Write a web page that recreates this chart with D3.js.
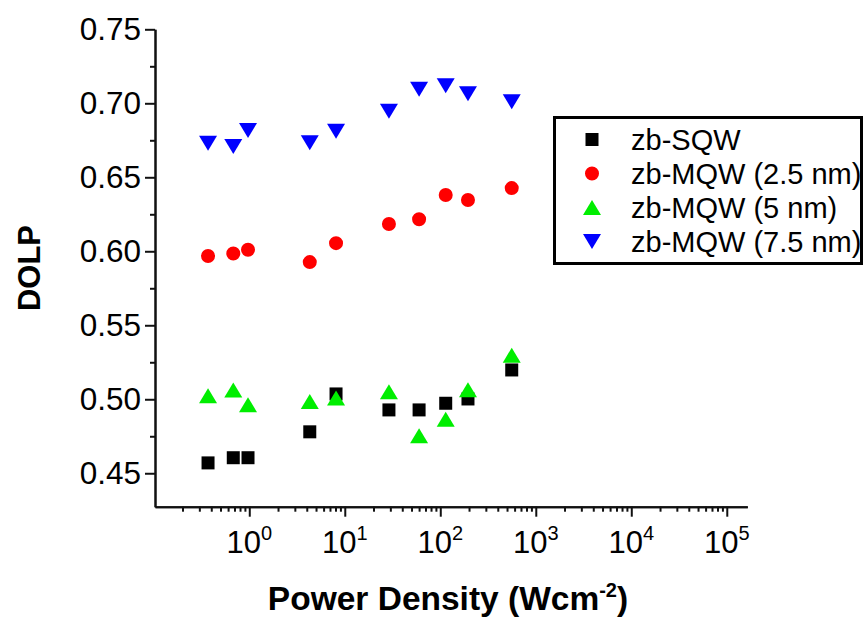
<!DOCTYPE html>
<html lang="en">
<head>
<meta charset="UTF-8" />
<title>DOLP vs Power Density</title>
<script src="https://cdn.jsdelivr.net/npm/d3@7"></script>
<style>
  body { margin: 0; background: #fff; }
  svg { font-family: "Liberation Sans", Arial, sans-serif; }
  .axis path, .axis line { stroke: #111; stroke-width: 2; }
  .axis text { display: none; }
</style>
</head>
<body>
<div id="chart"></div>
<script>
// data
const powerDensity = [0.37, 0.68, 0.97, 4.3, 8.1, 29, 60, 114, 195, 560];
const sqw    = [0.457, 0.4605, 0.4605, 0.478, 0.5036, 0.4928, 0.4928, 0.4973, 0.5002, 0.5198];
const mqw25  = [0.5968, 0.5985, 0.601, 0.5927, 0.6055, 0.6184, 0.6216, 0.638, 0.6346, 0.6427];
const mqw5   = [0.5024, 0.5063, 0.4963, 0.4985, 0.5009, 0.5051, 0.4753, 0.4865, 0.5064, 0.5298];
const mqw75  = [0.673, 0.6708, 0.6816, 0.6733, 0.6811, 0.6947, 0.7095, 0.7118, 0.7064, 0.7011];
const seriesNames = ["zb-SQW", "zb-MQW (2.5 nm)", "zb-MQW (5 nm)", "zb-MQW (7.5 nm)"];
const seriesColors = ["#000000", "#ff0000", "#00ee00", "#0000ff"];
const yTicks = [0.45, 0.50, 0.55, 0.60, 0.65, 0.70, 0.75];
const xExponents = [0, 1, 2, 3, 4, 5];

const W = 864, H = 617;
const mLeft = 155, mRight = 747.3, mTop = 29.3, mBottom = 506.7;

const svg = d3.select("#chart").append("svg")
  .attr("width", W).attr("height", H);

const x = d3.scaleLog().domain([0.103, 1.64e5]).range([mLeft, mRight]);
const y = d3.scaleLinear().domain([0.4274, 0.75]).range([mBottom, mTop]);

// bbox-centred triangles (like Origin markers)
const triUp = { draw(ctx, size) { const w = 18, h = 15;
  ctx.moveTo(0, -h / 2); ctx.lineTo(w / 2, h / 2); ctx.lineTo(-w / 2, h / 2); ctx.closePath(); } };
const triDown = { draw(ctx, size) { const w = 18, h = 15;
  ctx.moveTo(0, h / 2); ctx.lineTo(w / 2, -h / 2); ctx.lineTo(-w / 2, -h / 2); ctx.closePath(); } };
const shapes = [
  d3.symbol(d3.symbolSquare, 169),
  d3.symbol(d3.symbolCircle, 154),
  d3.symbol(triUp),
  d3.symbol(triDown)
];

// y axis
const yMinor = d3.range(0.475, 0.75, 0.05);
svg.append("g").attr("class", "axis").attr("transform", `translate(${mLeft},0)`)
  .call(d3.axisLeft(y).tickValues(yMinor).tickSize(5).tickSizeOuter(0));
svg.append("g").attr("class", "axis").attr("transform", `translate(${mLeft},0)`)
  .call(d3.axisLeft(y).tickValues(yTicks).tickSize(10).tickSizeOuter(0));

svg.append("g").selectAll("text").data(yTicks).join("text")
  .attr("x", mLeft - 14).attr("y", d => y(d))
  .attr("dy", "0.35em")
  .attr("text-anchor", "end")
  .attr("font-size", 31.5)
  .text(d => d.toFixed(2));

// x axis (log)
const xMajor = xExponents.map(e => Math.pow(10, e));
const xMinor = [];
for (let e = -1; e <= 5; e++) {
  for (let m = 2; m <= 9; m++) {
    const v = m * Math.pow(10, e);
    if (v >= x.domain()[0] && v <= x.domain()[1]) xMinor.push(v);
  }
}
svg.append("g").attr("class", "axis").attr("transform", `translate(0,${mBottom})`)
  .call(d3.axisBottom(x).tickValues(xMinor).tickSize(5).tickSizeOuter(0));
svg.append("g").attr("class", "axis").attr("transform", `translate(0,${mBottom})`)
  .call(d3.axisBottom(x).tickValues(xMajor).tickSize(10).tickSizeOuter(0));

const xl = svg.append("g").selectAll("text").data(xExponents).join("text")
  .attr("x", d => x(Math.pow(10, d)))
  .attr("y", 553)
  .attr("text-anchor", "middle")
  .attr("font-size", 31);
xl.append("tspan").text("10");
xl.append("tspan").attr("font-size", 20).attr("dy", -13).text(d => d);

// axis titles
svg.append("text")
  .attr("transform", `translate(40,${(mTop + mBottom) / 2}) rotate(-90)`)
  .attr("text-anchor", "middle")
  .attr("font-size", 31).attr("font-weight", "bold")
  .text("DOLP");

const xt = svg.append("text")
  .attr("x", 448).attr("y", 610)
  .attr("text-anchor", "middle")
  .attr("font-size", 33.5).attr("font-weight", "bold");
xt.append("tspan").text("Power Density (Wcm");
xt.append("tspan").attr("font-size", 20).attr("dy", -13).text("-2");
xt.append("tspan").attr("dy", 13).text(")");

// points
const allSeries = [sqw, mqw25, mqw5, mqw75];
allSeries.forEach((vals, i) => {
  svg.append("g").selectAll("path").data(vals).join("path")
    .attr("transform", (d, j) => `translate(${x(powerDensity[j])},${y(d)})`)
    .attr("d", shapes[i])
    .attr("fill", seriesColors[i]);
});

// legend
const lg = svg.append("g");
lg.append("rect")
  .attr("x", 554.5).attr("y", 117.5).attr("width", 307).attr("height", 146)
  .attr("fill", "#fff").attr("stroke", "#000").attr("stroke-width", 3);
const rows = lg.selectAll("g.row").data(seriesNames).join("g")
  .attr("class", "row")
  .attr("transform", (d, i) => `translate(0,${139.5 + i * 34})`);
rows.append("path")
  .attr("transform", "translate(592,0)")
  .attr("d", (d, i) => shapes[i]())
  .attr("fill", (d, i) => seriesColors[i]);
rows.append("text")
  .attr("x", 631).attr("dy", "0.35em")
  .attr("font-size", 29)
  .text(d => d);
</script>
</body>
</html>
